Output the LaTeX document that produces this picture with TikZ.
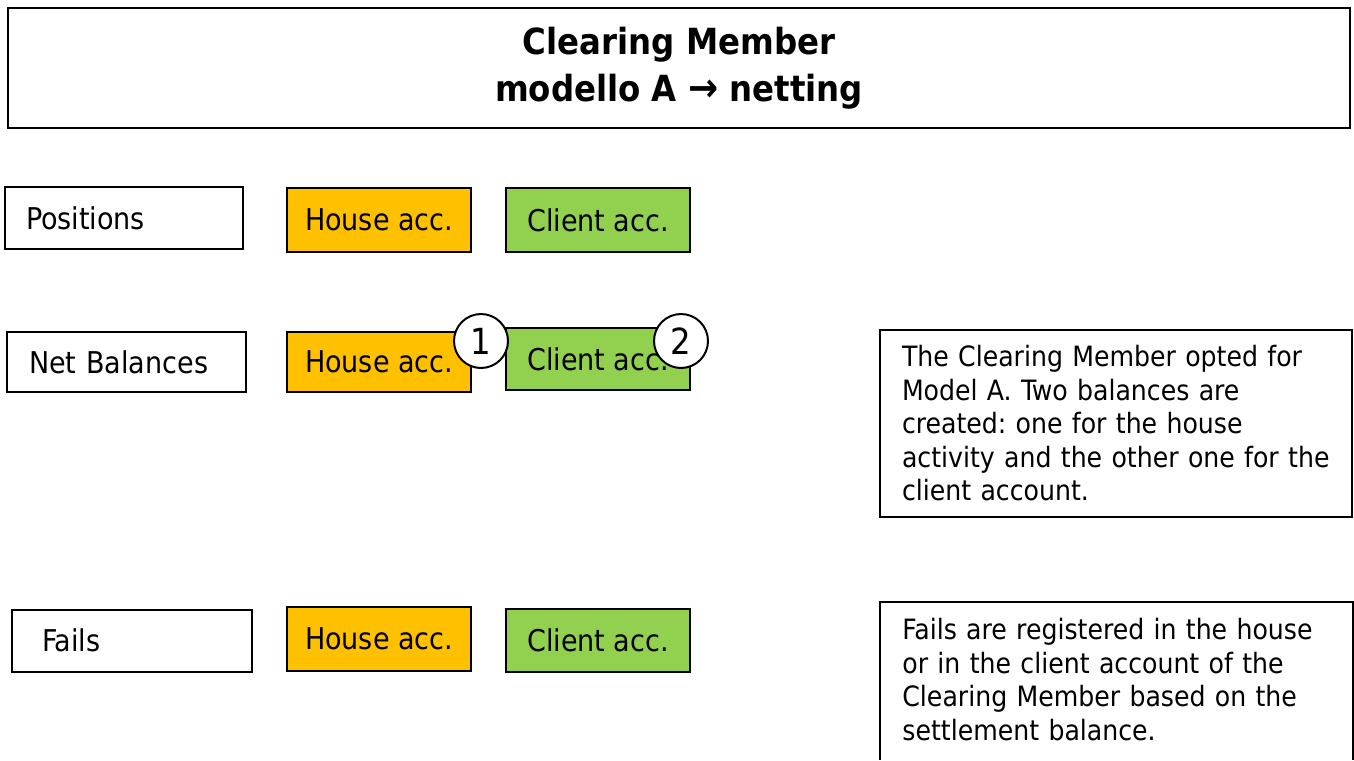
\documentclass[tikz,border=0pt]{standalone}
\usepackage{fontspec}
\setmainfont{DejaVu Sans Condensed}
\frenchspacing
\definecolor{houseorange}{HTML}{FFC000}
\definecolor{clientgreen}{HTML}{92D050}
\tikzset{
  boxline/.style={draw=black, line width=1pt},
  rowlabel/.style={boxline, fill=white, minimum height=31pt,
    align=left, font=\fontsize{15}{18}\selectfont},
  accbox/.style={boxline, minimum width=92pt, minimum height=32pt, inner sep=0pt,
    font=\fontsize{15}{18}\selectfont},
  house/.style={accbox, fill=houseorange},
  client/.style={accbox, fill=clientgreen},
  badge/.style={circle, boxline, fill=white, minimum size=27pt, inner sep=0pt,
    font=\fontsize{18}{20}\selectfont},
  notetext/.style={text width=214pt, inner xsep=11pt, align=left,
    font=\fontsize{14}{16.75}\selectfont}
}
\begin{document}
\begin{tikzpicture}[x=0.5pt, y=-0.5pt]
  \useasboundingbox (0,0) rectangle (1354,760);
  \coordinate (pagebottom) at (0,760);
  % title
  \node[boxline, line width=1.4pt, minimum width=671pt, minimum height=60pt, align=center,
    font=\fontsize{18}{23.5}\selectfont\bfseries] (title) at (679,68)
    {Clearing Member\\modello A {\fontsize{20}{23.5}\selectfont→} netting};
  % row labels
  \node[rowlabel, minimum width=119pt, text width=98pt, inner xsep=10.5pt] (positions) at (124,218) {Positions};
  \node[rowlabel, minimum width=119.5pt, text width=97.5pt, inner xsep=11pt, minimum height=30pt] (netbal) at (126.5,362) {Net Balances};
  \node[rowlabel, minimum width=120pt, text width=90pt, inner xsep=15pt] (fails) at (132,640.5) {Fails};
  % accounts
  \node[house] (house1) at (379,220) {House acc.};
  \node[client] (client1) at (598,220) {Client acc.};
  \node[house, minimum height=30pt] (house2) at (379,362) {House acc.};
  \node[client, minimum height=31pt] (client2) at (598,359) {Client acc.};
  \node[house] (house3) at (379,639) {House acc.};
  \node[client, minimum height=31.5pt] (client3) at (598,640.5) {Client acc.};
  % badges
  \node[badge] (one) at (481,341) {1};
  \node[badge] (two) at (681,341) {2};
  % notes
  \node[notetext, boxline, minimum height=93.5pt] (note1) at (1116,423.5)
    {The Clearing Member opted for\\Model A. Two balances are\\created: one for the house\\activity and the other one for the\\client account.};
  \node[notetext, anchor=north west, inner ysep=8pt] (note2) at (880,602)
    {Fails are registered in the house\\or in the client account of the\\Clearing Member based on the\\settlement balance.};
  \draw[boxline] (note2.north west |- pagebottom) -- (note2.north west)
    -- (note2.north east) -- (note2.north east |- pagebottom);
\end{tikzpicture}
\end{document}
